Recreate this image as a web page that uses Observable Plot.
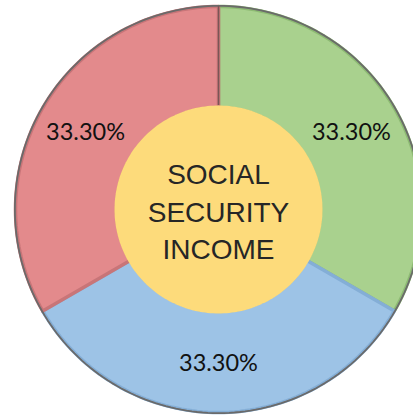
<!DOCTYPE html>
<html>
<head>
<meta charset="utf-8">
<script src="https://cdn.jsdelivr.net/npm/d3@7"></script>
<script src="https://cdn.jsdelivr.net/npm/@observablehq/plot@0.6"></script>
<style>
  html, body { margin: 0; padding: 0; background: #fff; }
  #chart svg { display: block; }
  #chart .pct text { font-family: "Lato", "Carlito", "Open Sans", sans-serif; }
</style>
</head>
<body>
<div id="chart"></div>
<script>
// Data
const categories = ["Slice A", "Slice B", "Slice C"];
const values = [33.3, 33.3, 33.3];
const labels = ["33.30%", "33.30%", "33.30%"];
const centerLabel = "SOCIAL\nSECURITY\nINCOME";

// Styles
const fills = ["#a9d18e", "#9dc3e6", "#e38a8c"];
const edges = ["#8dba73", "#84aed6", "#c87578"];

const W = 413, H = 415;
const R = 203;           // outer radius in px
const cx = 218, cy = 209; // centre in px
const innerR = 102 / R;
const holeR = 104 / R;

const pie = d3.pie().sort(null).value(d => d.value)(
  categories.map((c, i) => ({name: c, value: values[i], label: labels[i], fill: fills[i], edge: edges[i]}))
);

// slice outlines (ring segments) derived from pie angles
const slicePts = [];
for (const a of pie) {
  const n = 80, pts = [];
  for (let k = 0; k <= n; k++) {
    const t = a.startAngle + (a.endAngle - a.startAngle) * k / n;
    pts.push([Math.sin(t), Math.cos(t)]);
  }
  for (let k = n; k >= 0; k--) {
    const t = a.startAngle + (a.endAngle - a.startAngle) * k / n;
    pts.push([innerR * Math.sin(t), innerR * Math.cos(t)]);
  }
  pts.push(pts[0]);
  for (const p of pts) slicePts.push({name: a.data.name, x: p[0], y: p[1], fill: a.data.fill, edge: a.data.edge});
}

function circle(r) {
  const out = [];
  for (let k = 0; k <= 240; k++) {
    const t = 2 * Math.PI * k / 240;
    out.push({x: r * Math.sin(t), y: r * Math.cos(t)});
  }
  return out;
}

const mid = (1 + innerR) / 2 + 0.005;
const labelPts = pie.map(a => {
  const t = (a.startAngle + a.endAngle) / 2;
  return {x: mid * Math.sin(t), y: mid * Math.cos(t), label: a.data.label};
});

const chart = Plot.plot({
  width: W,
  height: H,
  margin: 0,
  x: {domain: [-cx / R, (W - cx) / R], axis: null},
  y: {domain: [-(H - cy) / R, cy / R], axis: null},
  color: {type: "identity"},
  marks: [
    Plot.line(slicePts, {x: "x", y: "y", z: "name", fill: "fill", stroke: "edge", strokeWidth: 3.5, strokeLinejoin: "miter"}),
    Plot.line(circle(1.003), {x: "x", y: "y", stroke: "#6a6a6a", strokeWidth: 1.8, fill: "none"}),
    Plot.ruleX([0], {x: 0, y1: holeR, y2: 1, stroke: "#7a5656", strokeWidth: 1.5}),
    Plot.line(circle(holeR), {x: "x", y: "y", fill: "#fddb7b", stroke: "none"}),
    Plot.text(labelPts, {x: "x", y: "y", text: "label", fontFamily: "Lato", fontSize: 23.5, fill: "#111", className: "pct"}),
    Plot.text([centerLabel], {x: 0, y: 0, text: d => d, fontFamily: "Liberation Sans, Arial", fontSize: 28, lineHeight: 1.34, fill: "#262626", textAnchor: "middle", lineAnchor: "middle"})
  ]
});
document.getElementById("chart").append(chart);
</script>
</body>
</html>
